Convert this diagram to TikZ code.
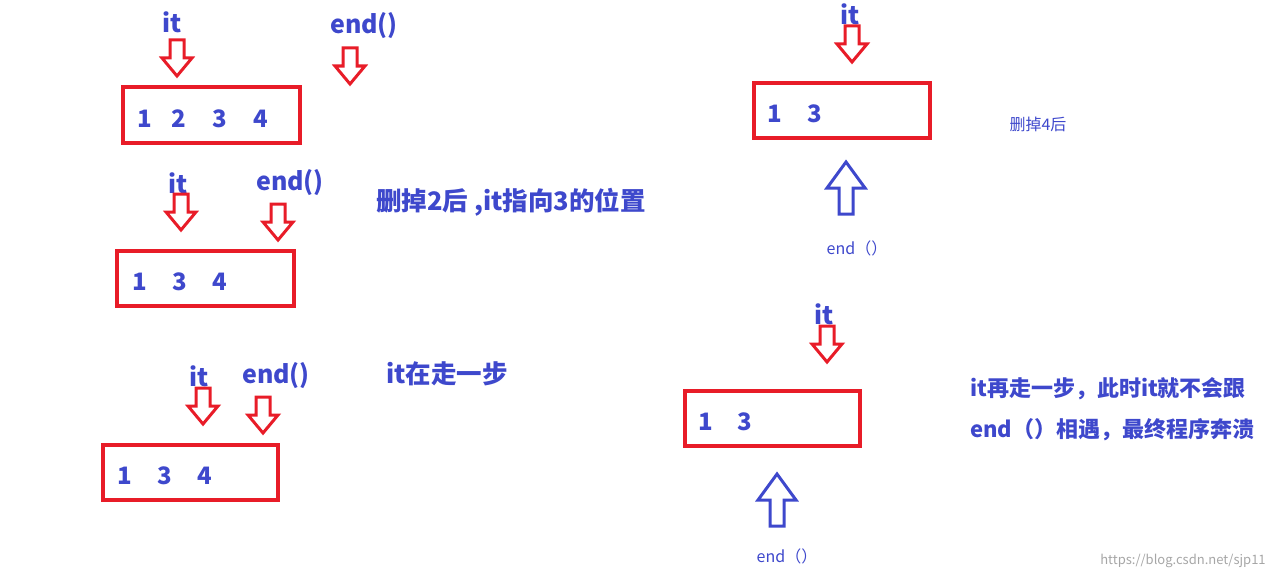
\documentclass[tikz,border=0pt]{standalone}
\usepackage{fontspec}
\setmainfont{Noto Sans CJK SC}
\definecolor{rd}{RGB}{232,28,40}
\definecolor{bl}{RGB}{62,72,204}
\tikzset{
 x=1pt,y=-1pt,
 box/.style={draw=rd,line width=4pt,inner sep=0pt},
 num/.style={text=bl,font=\fontsize{24}{26}\selectfont\bfseries,inner sep=0pt},
 lab/.style={text=bl,font=\fontsize{25}{27}\selectfont\bfseries,inner sep=0pt},
 big/.style={text=bl,font=\fontsize{25.5}{28}\selectfont\bfseries,inner sep=0pt},
 rbig/.style={text=bl,font=\fontsize{22}{24}\selectfont\bfseries,inner sep=0pt},
 small/.style={text=bl,font=\fontsize{16}{18}\selectfont,inner sep=0pt},
 pics/darr/.style={code={\draw[rd,line width=3pt,line join=miter]
   (-7,0)--(7,0)--(7,18)--(15,18)--(0,36)--(-15,18)--(-7,18)--cycle;}},
 pics/uarr/.style={code={\draw[bl,line width=3pt,line join=miter]
   (-7,52)--(7,52)--(7,26)--(19,26)--(0,0)--(-19,26)--(-7,26)--cycle;}}
}
\begin{document}
\begin{tikzpicture}
\useasboundingbox (0,0) rectangle (1276,578);
% group 1
\node[lab] (it1) at (172,22) {it};
\pic at (177,40) {darr};
\node[lab] (e1) at (364,26) {end()};
\pic at (350,48) {darr};
\draw[box] (123,87) rectangle (300,143);
\foreach \x/\t in {145/1,179/2,220/3,261/4}\node[num] at (\x,119) {\t};
% group 2
\node[lab] (it2) at (178,183) {it};
\pic at (181,194) {darr};
\node[lab] (e2) at (290,183) {end()};
\pic at (278,204) {darr};
\draw[box] (117,251) rectangle (294,306);
\foreach \x/\t in {140/1,180/3,220/4}\node[num] at (\x,282) {\t};
\node[big,anchor=west] (l2) at (376,202) {删掉2后 ,it指向3的位置};
% group 3
\node[lab] (it3) at (199,376) {it};
\pic at (203,388) {darr};
\node[lab] (e3) at (276,376) {end()};
\pic at (263,397) {darr};
\draw[box] (103,445) rectangle (278,500);
\foreach \x/\t in {125/1,165/3,205/4}\node[num] at (\x,476) {\t};
\node[big,anchor=west] (l3) at (386,374) {it在走一步};
% right 1
\node[lab] (it4) at (850,14) {it};
\pic at (852,26) {darr};
\draw[box] (754,83) rectangle (930,138);
\foreach \x/\t in {775/1,815/3}\node[num] at (\x,114) {\t};
\node[small] (l4) at (1038,124) {删掉4后};
\pic at (846,162) {uarr};
\node[small] (e4) at (857,248) {end（）};
% right 2
\node[lab] (it5) at (824,314) {it};
\pic at (827,326) {darr};
\draw[box] (685,391) rectangle (860,446);
\foreach \x/\t in {706/1,745/3}\node[num] at (\x,422) {\t};
\pic at (777,474) {uarr};
\node[small] (e5) at (787,556) {end（）};
\node[rbig,anchor=west] (l5a) at (970,389) {it再走一步，此时it就不会跟};
\node[rbig,anchor=west] (l5b) at (970,430) {end（）相遇，最终程序奔溃};
\node[text=gray!70,font=\fontsize{13}{14}\selectfont,inner sep=0pt] (wm) at (1183,561) {https://blog.csdn.net/sjp11};
\end{tikzpicture}
\end{document}
